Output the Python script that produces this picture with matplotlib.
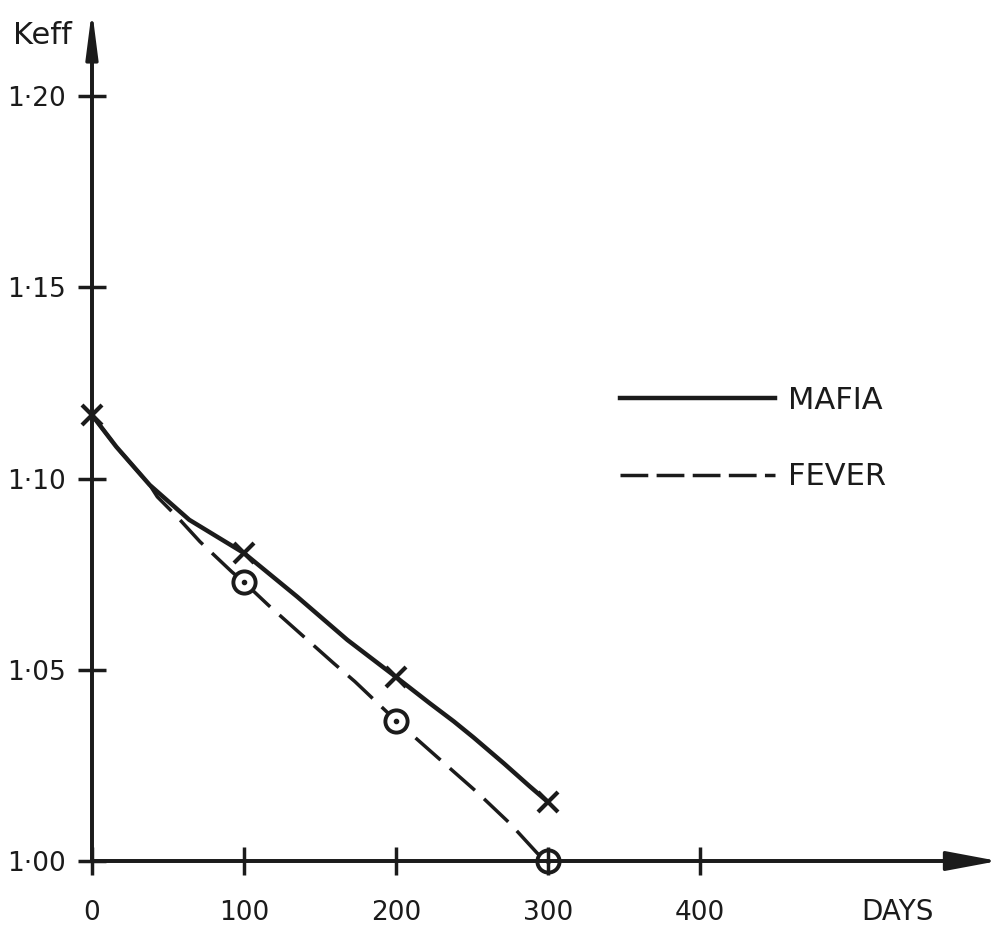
import matplotlib
matplotlib.use("Agg")
import matplotlib.pyplot as plt
from matplotlib.lines import Line2D

ink = "#1b1b1b"
plt.rcParams["font.family"] = ["DejaVu Sans"]
plt.rcParams["lines.scale_dashes"] = False

# points marked on the drawing
mafia_days = [0, 100, 200, 300]
mafia_keff = [1.1166, 1.0805, 1.0481, 1.0154]
fever_days = [100, 200, 300]
fever_keff = [1.0729, 1.0367, 1.000]

# the hand drawn curves
mafia_curve_days = [0, 16, 38, 64, 100, 135, 168, 200, 222, 238, 251, 271, 288, 300]
mafia_curve_keff = [1.1166, 1.1083, 1.0983, 1.0892, 1.0805, 1.0691, 1.0578, 1.0481,
                    1.0413, 1.0365, 1.0323, 1.0255, 1.0195, 1.0154]
fever_curve_days = [0, 16, 38, 43, 56, 71, 92, 100, 116, 159, 173, 200, 233, 253, 275, 293, 300]
fever_curve_keff = [1.1166, 1.1083, 1.0983, 1.0952, 1.0900, 1.0835, 1.0756, 1.0729, 1.0669,
                    1.0517, 1.0469, 1.0367, 1.0251, 1.0181, 1.0098, 1.0020, 1.000]

x_ticks = [0, 100, 200, 300, 400]
x_labels = ["0", "100", "200", "300", "400"]
y_ticks = [1.00, 1.05, 1.10, 1.15, 1.20]
y_labels = ["1·00", "1·05", "1·10", "1·15", "1·20"]

fig = plt.figure(figsize=(9.98, 9.31), dpi=100)
ax = fig.add_axes([0, 0, 1, 1])
ax.set_xlim(-60.5, 596)
ax.set_ylim(0.9817, 1.2251)

# axes drawn like the sketch: two lines through the origin with arrow heads
ax.spines[["top", "right"]].set_visible(False)
ax.spines["left"].set_position(("data", 0))
ax.spines["bottom"].set_position(("data", 1.0))
ax.spines["left"].set_bounds(1.0, 1.21)
ax.spines["bottom"].set_bounds(0, 580)
for s in ["left", "bottom"]:
    ax.spines[s].set_linewidth(2.8)
    ax.spines[s].set_color(ink)
ax.annotate("", xy=(0, 1.2225), xytext=(0, 1.0),
            arrowprops=dict(arrowstyle="-|>,head_length=1.4,head_width=0.18",
                            mutation_scale=20, lw=2.4, color=ink, shrinkA=0, shrinkB=0))
ax.annotate("", xy=(1.0, 1.0), xycoords=("axes fraction", "data"),
            xytext=(0, 1.0), textcoords="data",
            arrowprops=dict(arrowstyle="-|>,head_length=1.6,head_width=0.3",
                            mutation_scale=20, lw=2.4, color=ink, shrinkA=0, shrinkB=0))

ax.set_axisbelow(False)
ax.set_xticks(x_ticks, x_labels)
ax.set_yticks(y_ticks, y_labels)
ax.tick_params(direction="inout", length=20, width=2.5, color=ink,
               labelsize=19, labelcolor=ink)
ax.tick_params(axis="x", pad=18)
ax.tick_params(axis="y", pad=9)

ax.text(42 / 998, 1 - 35 / 931, "Keff", transform=ax.transAxes, fontsize=22,
        color=ink, ha="center", va="center")
ax.text(897 / 998, 1 - 912 / 931, "DAYS", transform=ax.transAxes, fontsize=20,
        color=ink, ha="center", va="center")

# curves
ax.plot(mafia_curve_days, mafia_curve_keff, color=ink, lw=3.2,
        solid_capstyle="round", solid_joinstyle="round", zorder=2)
ax.plot(fever_curve_days, fever_curve_keff, color=ink, lw=2.5, ls="--",
        dashes=(24, 9), zorder=2)

# markers
ax.plot(mafia_days, mafia_keff, "x", ms=14, mew=3, color=ink, zorder=2.2)
ax.plot(fever_days, fever_keff, "o", ms=16, mew=2.8, mfc="white", mec=ink, zorder=2.1)
ax.plot(fever_days, fever_keff, ".", ms=6, color=ink, zorder=2.15)

handles = [Line2D([], [], color=ink, lw=3.2),
           Line2D([], [], color=ink, lw=2.5, dashes=(20, 6))]
leg = ax.legend(handles, ["MAFIA", "FEVER"], loc="upper left",
                bbox_to_anchor=(620 / 998, 1 - 386 / 931), frameon=False,
                fontsize=22, handlelength=5.07, handletextpad=0.42,
                labelspacing=1.55, borderpad=0, borderaxespad=0)
for t in leg.get_texts():
    t.set_color(ink)

fig.savefig("out.png", dpi=100, facecolor="white")
